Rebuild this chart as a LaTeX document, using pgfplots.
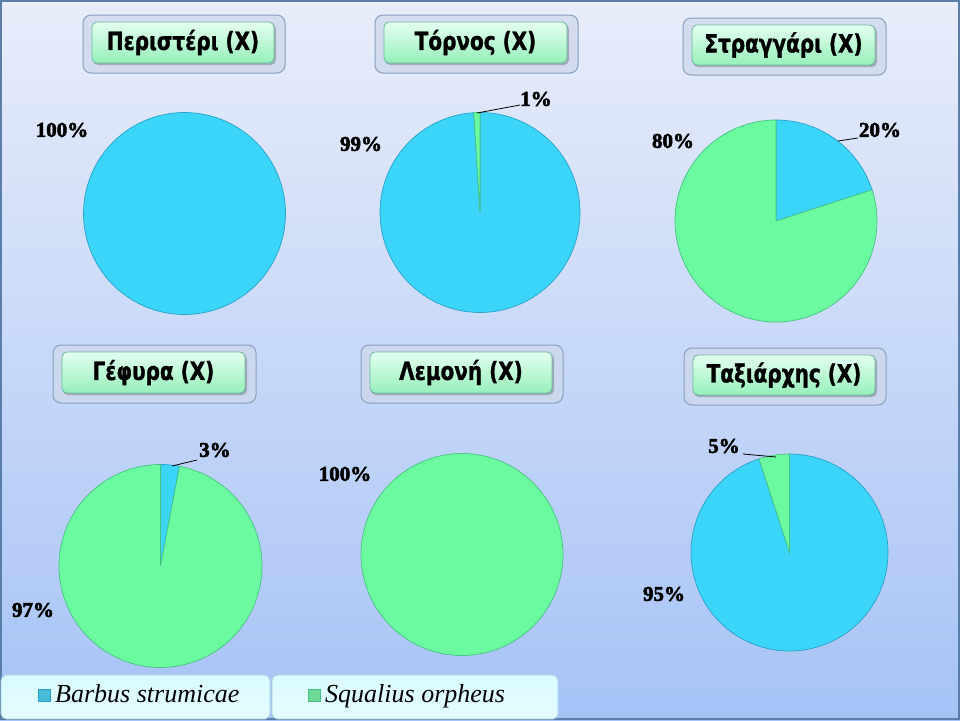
\documentclass[border=0pt]{standalone}
\usepackage{pgfplots}
\pgfplotsset{compat=1.18}
\usepackage{pgfplotstable}
\usepackage{fontspec}
\setmainfont{Liberation Serif}
\newfontfamily\titlefont[FakeStretch=0.8, FakeBold=1.2]{DejaVu Sans Bold}
\newfontfamily\pctfont[FakeBold=2.6]{Liberation Serif Bold}
\newfontfamily\legfont{Liberation Serif Italic}

\definecolor{cyanfill}{RGB}{60,213,250}
\definecolor{cyanedge}{RGB}{40,160,200}
\definecolor{greenfill}{RGB}{108,250,160}
\definecolor{greenedge}{RGB}{70,195,130}
\definecolor{bgtop}{RGB}{232,237,250}
\definecolor{bgbot}{RGB}{166,195,246}
\definecolor{framec}{RGB}{90,125,170}
\definecolor{outerfill}{RGB}{205,216,234}
\definecolor{outerdraw}{RGB}{135,160,192}
\definecolor{innertop}{RGB}{228,255,240}
\definecolor{innerbot}{RGB}{150,240,186}
\definecolor{innerdraw}{RGB}{105,185,160}
\definecolor{legtop}{RGB}{218,250,253}
\definecolor{legbot}{RGB}{228,253,254}
\definecolor{legdraw}{RGB}{170,210,225}

\pgfplotstableread{
site barbus squalius
Peristeri 100 0
Tornos 99 1
Straggari 20 80
Gefyra 3 97
Lemoni 0 100
Taxiarchis 95 5
}\piedata

% #1 row, #2 cx, #3 cy (pixels from top), #4 diameter
\newcommand{\pie}[4]{%
\pgfplotstablegetelem{#1}{barbus}\of\piedata\edef\vb{\pgfplotsretval}%
\pgfplotstablegetelem{#1}{squalius}\of\piedata\edef\vs{\pgfplotsretval}%
\pgfmathsetmacro\angb{90-3.6*\vb}%
\begin{axis}[hide axis, scale only axis, width=#4pt, height=#4pt,
  at={(#2pt,-#3pt)}, anchor=center, xmin=-1, xmax=1, ymin=-1, ymax=1, clip=false]
\ifdim\vb pt>99.99pt
  \addplot[fill=cyanfill, draw=cyanedge, line width=0.7pt, domain=0:360, samples=121] ({cos(x)},{sin(x)}) -- cycle;
\else\ifdim\vb pt>0pt
  \addplot[fill=cyanfill, draw=cyanedge, line width=0.7pt, domain=90:\angb, samples=121] ({cos(x)},{sin(x)}) -- (axis cs:0,0) -- cycle;
\fi\fi
\ifdim\vs pt>99.99pt
  \addplot[fill=greenfill, draw=greenedge, line width=0.7pt, domain=0:360, samples=121] ({cos(x)},{sin(x)}) -- cycle;
\else\ifdim\vs pt>0pt
  \addplot[fill=greenfill, draw=greenedge, line width=0.7pt, domain=\angb:-270, samples=121] ({cos(x)},{sin(x)}) -- (axis cs:0,0) -- cycle;
\fi\fi
\end{axis}}

\newcommand{\tbox}[5]{%
 \draw[rounded corners=8pt, fill=outerfill, fill opacity=0.75, draw=outerdraw, line width=1pt] (#1,#2) rectangle (#3,#4);
 \fill[rounded corners=5pt, black, opacity=0.22] (#1+10,#2+9) rectangle (#3-9,#4-8);
 \shadedraw[rounded corners=5pt, top color=innertop, bottom color=innerbot, draw=innerdraw, line width=0.8pt] (#1+9,#2+7) rectangle (#3-11,#4-10);
 \node[inner sep=0pt, font=\titlefont\fontsize{25}{29}\selectfont] at ({(#1+#3)/2-1},{(#2+#4)/2-1.5}) {#5};
}

\newcommand{\pct}[3]{\node[inner sep=0pt, font=\pctfont\fontsize{21}{24}\selectfont] at (#1,#2) {#3};}

\begin{document}
\begin{tikzpicture}
\useasboundingbox (0,0) rectangle (960pt,-720pt);
\begin{scope}[x=1pt, y=-1pt]
\clip (0,0) rectangle (960,720);
\shade[top color=bgtop, bottom color=bgbot] (0,0) rectangle (960,720);
\draw[framec, line width=1.6pt] (0.8,0.8) rectangle (959.2,719.2);
\tbox{83}{15}{285}{73}{Περιστέρι (Χ)}
\tbox{375}{15}{578}{73}{Τόρνος (Χ)}
\tbox{683}{18}{886}{75}{Στραγγάρι (Χ)}
\tbox{53}{345}{256}{403}{Γέφυρα (Χ)}
\tbox{361}{345}{563}{403}{Λεμονή (Χ)}
\tbox{684}{348}{886}{405}{Ταξιάρχης (Χ)}
\end{scope}

\pie{0}{184.5}{213.5}{202}
\pie{1}{480}{212.5}{200}
\pie{2}{776}{221}{202}
\pie{3}{160.5}{566}{203}
\pie{4}{462}{554.5}{202}
\pie{5}{789.5}{552.5}{197}

\begin{scope}[x=1pt, y=-1pt]
\clip (0,0) rectangle (960,720);
% leader lines
\draw[black, line width=0.8pt] (477,113) -- (520,105);
\draw[black, line width=0.8pt] (838,141) -- (858,138);
\draw[black, line width=0.8pt] (172,466) -- (197,460);
\draw[black, line width=0.8pt] (743,454) -- (776,457);
% percentage labels
\pct{62}{130}{100\%}
\pct{361}{144}{99\%}
\pct{536}{99}{1\%}
\pct{673}{141}{80\%}
\pct{880}{130}{20\%}
\pct{215}{450}{3\%}
\pct{33}{610}{97\%}
\pct{345}{474}{100\%}
\pct{724}{446}{5\%}
\pct{664}{594}{95\%}
% legend
\shadedraw[rounded corners=6pt, top color=legtop, bottom color=legbot, draw=legdraw, line width=0.8pt] (1,675) rectangle (270,719);
\shadedraw[rounded corners=6pt, top color=legtop, bottom color=legbot, draw=legdraw, line width=0.8pt] (272,675) rectangle (558,719);
\filldraw[fill=cyanfill!85!black!90, draw=cyanedge] (38,689) rectangle (50,701);
\filldraw[fill=greenfill!85!black!90, draw=greenedge] (308,689) rectangle (320,701);
\node[anchor=base west, inner sep=0pt, font=\legfont\fontsize{26}{30}\selectfont] at (55,702) {Barbus strumicae};
\node[anchor=base west, inner sep=0pt, font=\legfont\fontsize{26}{30}\selectfont] at (325,702) {Squalius orpheus};
\end{scope}
\end{tikzpicture}
\end{document}
